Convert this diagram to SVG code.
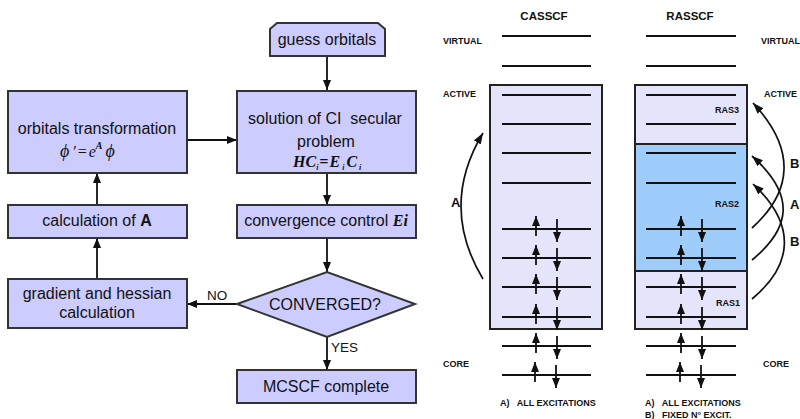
<svg xmlns="http://www.w3.org/2000/svg" width="800" height="419" viewBox="0 0 800 419">
  <style>
    .box { fill: #ccccff; stroke: #333; stroke-width: 2; }
    .t { font-family: "Liberation Sans", Arial, sans-serif; font-size: 16px; fill: #111; text-anchor: middle; }
    .m { font-family: "Liberation Serif", "Times New Roman", serif; font-style: italic; font-size: 16px; fill: #111; }
    .lbl { font-family: "Liberation Sans", Arial, sans-serif; font-size: 13.5px; fill: #111; }
    .conn { stroke: #111; stroke-width: 1.8; fill: none; }
    .lvl { stroke: #111; stroke-width: 2; }
    .s { font-family: "Liberation Sans", Arial, sans-serif; font-weight: bold; font-size: 9px; fill: #111; }
    .h { font-family: "Liberation Sans", Arial, sans-serif; font-weight: bold; font-size: 11.5px; fill: #111; text-anchor: middle; }
    .big { font-family: "Liberation Sans", Arial, sans-serif; font-weight: bold; font-size: 13px; fill: #111; }
    .el { stroke: #111; stroke-width: 1.8; }
    .curve { stroke: #111; stroke-width: 1.7; fill: none; }
  </style>
  <defs>
    <marker id="arr" viewBox="0 0 10 8" refX="10" refY="4" markerWidth="10" markerHeight="8" markerUnits="userSpaceOnUse" orient="auto">
      <path d="M0,0L10,4L0,8z" fill="#111"/>
    </marker>
    <marker id="el" viewBox="0 0 10 8" refX="10" refY="4" markerWidth="10" markerHeight="8" markerUnits="userSpaceOnUse" orient="auto">
      <path d="M0,0L10,4L0,8z" fill="#111"/>
    </marker>
    <marker id="cv" viewBox="0 0 11 8" refX="11" refY="4" markerWidth="11" markerHeight="8" markerUnits="userSpaceOnUse" orient="auto">
      <path d="M0,0L11,4L0,8z" fill="#111"/>
    </marker>
    <g id="pair">
      <line class="el" x1="0" y1="7" x2="0" y2="-13" marker-end="url(#el)"/>
      <line class="el" x1="21" y1="-10" x2="21" y2="13" marker-end="url(#el)"/>
    </g>
  </defs>

  <!-- flowchart connectors -->
  <g id="connectors">
    <line class="conn" x1="327" y1="56" x2="327" y2="90" marker-end="url(#arr)"/>
    <line class="conn" x1="187" y1="140" x2="237" y2="140" marker-end="url(#arr)"/>
    <line class="conn" x1="327" y1="173" x2="327" y2="205" marker-end="url(#arr)"/>
    <line class="conn" x1="327" y1="238" x2="327" y2="272" marker-end="url(#arr)"/>
    <line class="conn" x1="237" y1="304" x2="187" y2="304" marker-end="url(#arr)"/>
    <line class="conn" x1="327" y1="337" x2="327" y2="370" marker-end="url(#arr)"/>
    <line class="conn" x1="97" y1="279" x2="97" y2="238" marker-end="url(#arr)"/>
    <line class="conn" x1="97" y1="205" x2="97" y2="173" marker-end="url(#arr)"/>
    <text class="lbl" x="207" y="300">NO</text>
    <text class="lbl" x="331" y="352">YES</text>
  </g>

  <g id="guess">
    <polygon class="box" points="270,29 277,23 378,23 385,29 385,56 270,56"/>
    <text class="t" x="327" y="45">guess orbitals</text>
  </g>

  <g id="ci-solution">
    <rect class="box" x="237" y="91" width="179" height="82"/>
    <text class="t" x="325" y="124" xml:space="preserve">solution of CI  secular</text>
    <text class="t" x="326" y="147">problem</text>
    <text class="m" x="293" y="167" font-weight="bold">HC<tspan font-size="8" dy="3">i</tspan><tspan dy="-3" dx="1">=</tspan><tspan dx="1">E</tspan><tspan font-size="8" dy="3" dx="2">i</tspan><tspan dy="-3" dx="2">C</tspan><tspan font-size="8" dy="3" dx="2">i</tspan></text>
  </g>

  <g id="orb-transform">
    <rect class="box" x="8" y="91" width="179" height="82"/>
    <text class="t" x="97" y="134">orbitals transformation</text>
    <text class="m" x="60" y="157"><tspan font-size="18">ϕ</tspan><tspan dx="3">′</tspan><tspan dx="1">=</tspan><tspan dx="1">e</tspan><tspan font-size="10" dy="-8" font-weight="bold">A</tspan><tspan dy="8" dx="3" font-size="18">ϕ</tspan></text>
  </g>

  <g id="calc-a">
    <rect class="box" x="8" y="205" width="179" height="33"/>
    <text class="t" x="97" y="226">calculation of <tspan font-weight="bold">A</tspan></text>
  </g>

  <g id="conv-control">
    <rect class="box" x="237" y="205" width="179" height="33"/>
    <text class="t" x="326" y="226">convergence control <tspan font-family="Liberation Serif, serif" font-style="italic" font-weight="bold">Ei</tspan></text>
  </g>

  <g id="gradient">
    <rect class="box" x="8" y="279" width="179" height="49"/>
    <text class="t" x="97" y="299">gradient and hessian</text>
    <text class="t" x="97" y="318">calculation</text>
  </g>

  <g id="converged">
    <polygon class="box" points="237,304 327,272 415,304 327,337"/>
    <text class="t" x="325" y="310">CONVERGED?</text>
  </g>

  <g id="complete">
    <rect class="box" x="237" y="370" width="179" height="33"/>
    <text class="t" x="326" y="392">MCSCF complete</text>
  </g>

  <!-- CASSCF orbital scheme -->
  <g id="casscf">
    <text class="h" x="544" y="20">CASSCF</text>
    <rect x="490" y="85" width="112" height="244" fill="#e4e4fa" stroke="#222" stroke-width="2"/>
    <text class="s" x="443" y="44">VIRTUAL</text>
    <text class="s" x="443" y="97">ACTIVE</text>
    <text class="s" x="443" y="367">CORE</text>
    <g class="lvl">
      <line x1="502" y1="36" x2="591" y2="36"/>
      <line x1="502" y1="66" x2="591" y2="66"/>
      <line x1="502" y1="95" x2="591" y2="95"/>
      <line x1="502" y1="124" x2="591" y2="124"/>
      <line x1="502" y1="153" x2="591" y2="153"/>
      <line x1="502" y1="183" x2="591" y2="183"/>
      <line x1="502" y1="229" x2="591" y2="229"/>
      <line x1="502" y1="258" x2="591" y2="258"/>
      <line x1="502" y1="287" x2="591" y2="287"/>
      <line x1="502" y1="317" x2="591" y2="317"/>
      <line x1="502" y1="346" x2="591" y2="346"/>
      <line x1="502" y1="375" x2="591" y2="375"/>
    </g>
    <use href="#pair" x="536" y="229"/>
    <use href="#pair" x="536" y="258"/>
    <use href="#pair" x="536" y="287"/>
    <use href="#pair" x="536" y="317"/>
    <use href="#pair" x="536" y="346"/>
    <use href="#pair" x="535" y="375"/>
    <path class="curve" d="M483,279 Q439,206 483,133" marker-end="url(#cv)"/>
    <text class="big" x="451" y="207">A</text>
    <text class="s" x="500" y="406" xml:space="preserve">A)   ALL EXCITATIONS</text>
  </g>

  <!-- RASSCF orbital scheme -->
  <g id="rasscf">
    <text class="h" x="690" y="20">RASSCF</text>
    <rect x="635" y="85" width="112" height="59" fill="#e4e4fa"/>
    <rect x="635" y="144" width="112" height="127" fill="#9fcdfb"/>
    <rect x="635" y="271" width="112" height="58" fill="#e4e4fa"/>
    <line x1="635" y1="144" x2="747" y2="144" stroke="#222" stroke-width="2"/>
    <line x1="635" y1="271" x2="747" y2="271" stroke="#222" stroke-width="2"/>
    <rect x="635" y="85" width="112" height="244" fill="none" stroke="#222" stroke-width="2"/>
    <text class="s" x="761" y="44">VIRTUAL</text>
    <text class="s" x="764" y="97">ACTIVE</text>
    <text class="s" x="763" y="367">CORE</text>
    <text class="s" x="715" y="113">RAS3</text>
    <text class="s" x="715" y="207">RAS2</text>
    <text class="s" x="716" y="306">RAS1</text>
    <g class="lvl">
      <line x1="646" y1="36" x2="736" y2="36"/>
      <line x1="646" y1="66" x2="736" y2="66"/>
      <line x1="646" y1="95" x2="736" y2="95"/>
      <line x1="646" y1="124" x2="736" y2="124"/>
      <line x1="646" y1="153" x2="736" y2="153"/>
      <line x1="646" y1="183" x2="736" y2="183"/>
      <line x1="646" y1="229" x2="736" y2="229"/>
      <line x1="646" y1="258" x2="736" y2="258"/>
      <line x1="646" y1="287" x2="736" y2="287"/>
      <line x1="646" y1="317" x2="736" y2="317"/>
      <line x1="646" y1="346" x2="736" y2="346"/>
      <line x1="646" y1="375" x2="736" y2="375"/>
    </g>
    <use href="#pair" x="681" y="229"/>
    <use href="#pair" x="681" y="258"/>
    <use href="#pair" x="681" y="287"/>
    <use href="#pair" x="681" y="317"/>
    <use href="#pair" x="681" y="346"/>
    <use href="#pair" x="680" y="375"/>
    <path class="curve" d="M752,228 C792,192 797,150 753,103" marker-end="url(#cv)"/>
    <path class="curve" d="M752,260 C791,228 796,195 752,156" marker-end="url(#cv)"/>
    <path class="curve" d="M752,299 C793,265 797,225 753,184" marker-end="url(#cv)"/>
    <text class="big" x="790" y="168">B</text>
    <text class="big" x="790" y="209">A</text>
    <text class="big" x="790" y="246">B</text>
    <text class="s" x="645" y="406" xml:space="preserve">A)   ALL EXCITATIONS</text>
    <text class="s" x="645" y="418" xml:space="preserve">B)   FIXED N° EXCIT.</text>
  </g>
</svg>
